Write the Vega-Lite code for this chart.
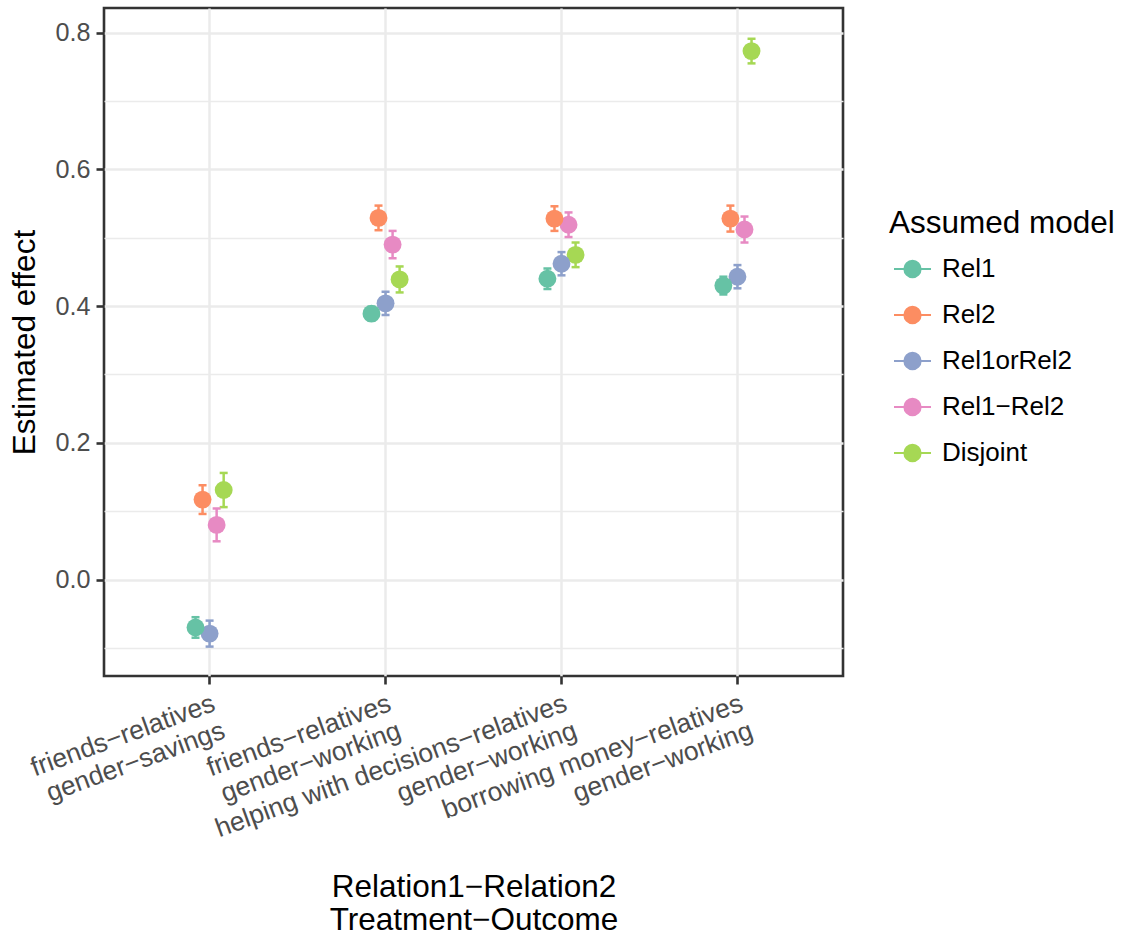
{
  "$schema": "https://vega.github.io/schema/vega-lite/v6.json",
  "autosize": {"type": "none"},
  "width": 739,
  "height": 668,
  "padding": {"left": 104, "top": 8, "right": 284, "bottom": 268},
  "background": "white",
  "config": {
    "font": "Liberation Sans",
    "view": {"stroke": "#333333", "strokeWidth": 2.6},
    "axis": {"labelFont": "Liberation Sans", "titleFont": "Liberation Sans"}
  },
  "data": {
    "values": [
      {"group": "friends−relatives\ngender−savings", "model": "Disjoint", "est": 0.131, "lo": 0.106, "hi": 0.156},
      {"group": "friends−relatives\ngender−working", "model": "Disjoint", "est": 0.439, "lo": 0.420, "hi": 0.458},
      {"group": "helping with decisions−relatives\ngender−working", "model": "Disjoint", "est": 0.475, "lo": 0.457, "hi": 0.493},
      {"group": "borrowing money−relatives\ngender−working", "model": "Disjoint", "est": 0.773, "lo": 0.755, "hi": 0.791},
      {"group": "friends−relatives\ngender−savings", "model": "Rel1−Rel2", "est": 0.080, "lo": 0.056, "hi": 0.104},
      {"group": "friends−relatives\ngender−working", "model": "Rel1−Rel2", "est": 0.490, "lo": 0.470, "hi": 0.510},
      {"group": "helping with decisions−relatives\ngender−working", "model": "Rel1−Rel2", "est": 0.519, "lo": 0.501, "hi": 0.537},
      {"group": "borrowing money−relatives\ngender−working", "model": "Rel1−Rel2", "est": 0.512, "lo": 0.493, "hi": 0.531},
      {"group": "friends−relatives\ngender−savings", "model": "Rel1orRel2", "est": -0.079, "lo": -0.098, "hi": -0.060},
      {"group": "friends−relatives\ngender−working", "model": "Rel1orRel2", "est": 0.404, "lo": 0.387, "hi": 0.421},
      {"group": "helping with decisions−relatives\ngender−working", "model": "Rel1orRel2", "est": 0.462, "lo": 0.445, "hi": 0.479},
      {"group": "borrowing money−relatives\ngender−working", "model": "Rel1orRel2", "est": 0.443, "lo": 0.426, "hi": 0.460},
      {"group": "friends−relatives\ngender−savings", "model": "Rel2", "est": 0.117, "lo": 0.096, "hi": 0.138},
      {"group": "friends−relatives\ngender−working", "model": "Rel2", "est": 0.529, "lo": 0.511, "hi": 0.547},
      {"group": "helping with decisions−relatives\ngender−working", "model": "Rel2", "est": 0.528, "lo": 0.510, "hi": 0.546},
      {"group": "borrowing money−relatives\ngender−working", "model": "Rel2", "est": 0.528, "lo": 0.509, "hi": 0.547},
      {"group": "friends−relatives\ngender−savings", "model": "Rel1", "est": -0.070, "lo": -0.085, "hi": -0.055},
      {"group": "friends−relatives\ngender−working", "model": "Rel1", "est": 0.389, "lo": 0.379, "hi": 0.399},
      {"group": "helping with decisions−relatives\ngender−working", "model": "Rel1", "est": 0.440, "lo": 0.425, "hi": 0.455},
      {"group": "borrowing money−relatives\ngender−working", "model": "Rel1", "est": 0.430, "lo": 0.417, "hi": 0.443}
    ]
  },
  "encoding": {
    "x": {
      "field": "group",
      "type": "nominal",
      "sort": null,
      "scale": {
        "domain": [
          "friends−relatives\ngender−savings",
          "friends−relatives\ngender−working",
          "helping with decisions−relatives\ngender−working",
          "borrowing money−relatives\ngender−working"
        ],
        "paddingInner": 0,
        "paddingOuter": 0.1
      },
      "axis": {
        "title": ["Relation1−Relation2", "Treatment−Outcome"],
        "titleFontSize": 31.5,
        "titleFontWeight": "normal",
        "titleColor": "#000000",
        "titleBaseline": "alphabetic",
        "titleY": 220,
        "titleLineHeight": 33,
        "labelExpr": "split(datum.label, '\\n')",
        "labelAngle": -20,
        "labelAlign": "right",
        "labelBaseline": "top",
        "labelFontSize": 26.5,
        "labelColor": "#4D4D4D",
        "labelLineHeight": 29,
        "labelPadding": 6,
        "labelLimit": 0,
        "labelOverlap": false,
        "labelBound": false,
        "labelFlush": false,
        "bandPosition": 0.5,
        "grid": true,
        "gridColor": "#EBEBEB",
        "gridWidth": 2.5,
        "domain": false,
        "ticks": true,
        "tickColor": "#333333",
        "tickWidth": 2.6,
        "tickSize": 8
      }
    },
    "xOffset": {
      "field": "model",
      "type": "nominal",
      "scale": {
        "domain": ["Rel1", "Rel2", "Rel1orRel2", "Rel1−Rel2", "Disjoint"],
        "range": [70.4, 105.6]
      }
    },
    "color": {
      "field": "model",
      "type": "nominal",
      "scale": {
        "domain": ["Rel1", "Rel2", "Rel1orRel2", "Rel1−Rel2", "Disjoint"],
        "range": ["#66C2A5", "#FC8D62", "#8DA0CB", "#E78AC3", "#A6D854"]
      },
      "legend": {
        "title": "Assumed model",
        "orient": "none",
        "legendX": 785,
        "legendY": 200,
        "padding": 0,
        "titleFontSize": 31.5,
        "titleFontWeight": "normal",
        "titleColor": "#000000",
        "titlePadding": 10,
        "titleLimit": 0,
        "labelFontSize": 26,
        "labelColor": "#000000",
        "labelLimit": 0,
        "labelOffset": 10,
        "symbolOffset": 4,
        "rowPadding": 13,
        "symbolType": "M-1,0L1,0M0.44,0A0.44,0.44,0,1,1,-0.44,0A0.44,0.44,0,1,1,0.44,0Z",
        "symbolSize": 1369,
        "symbolStrokeWidth": 2,
        "encode": {
          "symbols": {
            "update": {
              "fill": {"scale": "color", "field": "value"},
              "stroke": {"scale": "color", "field": "value"},
              "strokeWidth": {"value": 2},
              "opacity": {"value": 1}
            }
          }
        }
      }
    }
  },
  "layer": [
    {
      "mark": {"type": "rule", "strokeWidth": 2.5},
      "encoding": {
        "y": {
          "field": "lo",
          "type": "quantitative",
          "scale": {"domain": [-0.141, 0.836], "nice": false, "zero": false},
          "axis": {
            "orient": "left",
            "values": [-0.1, 0.1, 0.3, 0.5, 0.7],
            "grid": true,
            "gridColor": "#EBEBEB",
            "gridWidth": 1.3,
            "labels": false,
            "ticks": false,
            "domain": false,
            "title": null
          }
        },
        "y2": {"field": "hi"}
      }
    },
    {
      "mark": {"type": "tick", "orient": "horizontal", "size": 8, "thickness": 2.5, "opacity": 1},
      "encoding": {
        "y": {"field": "lo", "type": "quantitative", "axis": null}
      }
    },
    {
      "mark": {"type": "tick", "orient": "horizontal", "size": 8, "thickness": 2.5, "opacity": 1},
      "encoding": {
        "y": {"field": "hi", "type": "quantitative", "axis": null}
      }
    },
    {
      "mark": {"type": "point", "filled": true, "opacity": 1, "size": 320, "shape": "circle"},
      "encoding": {
        "y": {
          "field": "est",
          "type": "quantitative",
          "axis": {
            "orient": "left",
            "title": "Estimated effect",
            "titleFontSize": 31.5,
            "titleFontWeight": "normal",
            "titleColor": "#000000",
            "titleX": -79,
            "titleY": 334,
            "titleAlign": "center",
            "titleBaseline": "middle",
            "titleAngle": -90,
            "values": [0, 0.2, 0.4, 0.6, 0.8],
            "format": ".1f",
            "labelFontSize": 25.2,
            "labelColor": "#4D4D4D",
            "labelPadding": 6,
            "labelFlush": false,
            "grid": true,
            "gridColor": "#EBEBEB",
            "gridWidth": 2.5,
            "domain": false,
            "ticks": true,
            "tickColor": "#333333",
            "tickWidth": 2.6,
            "tickSize": 8
          }
        }
      }
    }
  ],
  "resolve": {"axis": {"y": "independent"}}
}
